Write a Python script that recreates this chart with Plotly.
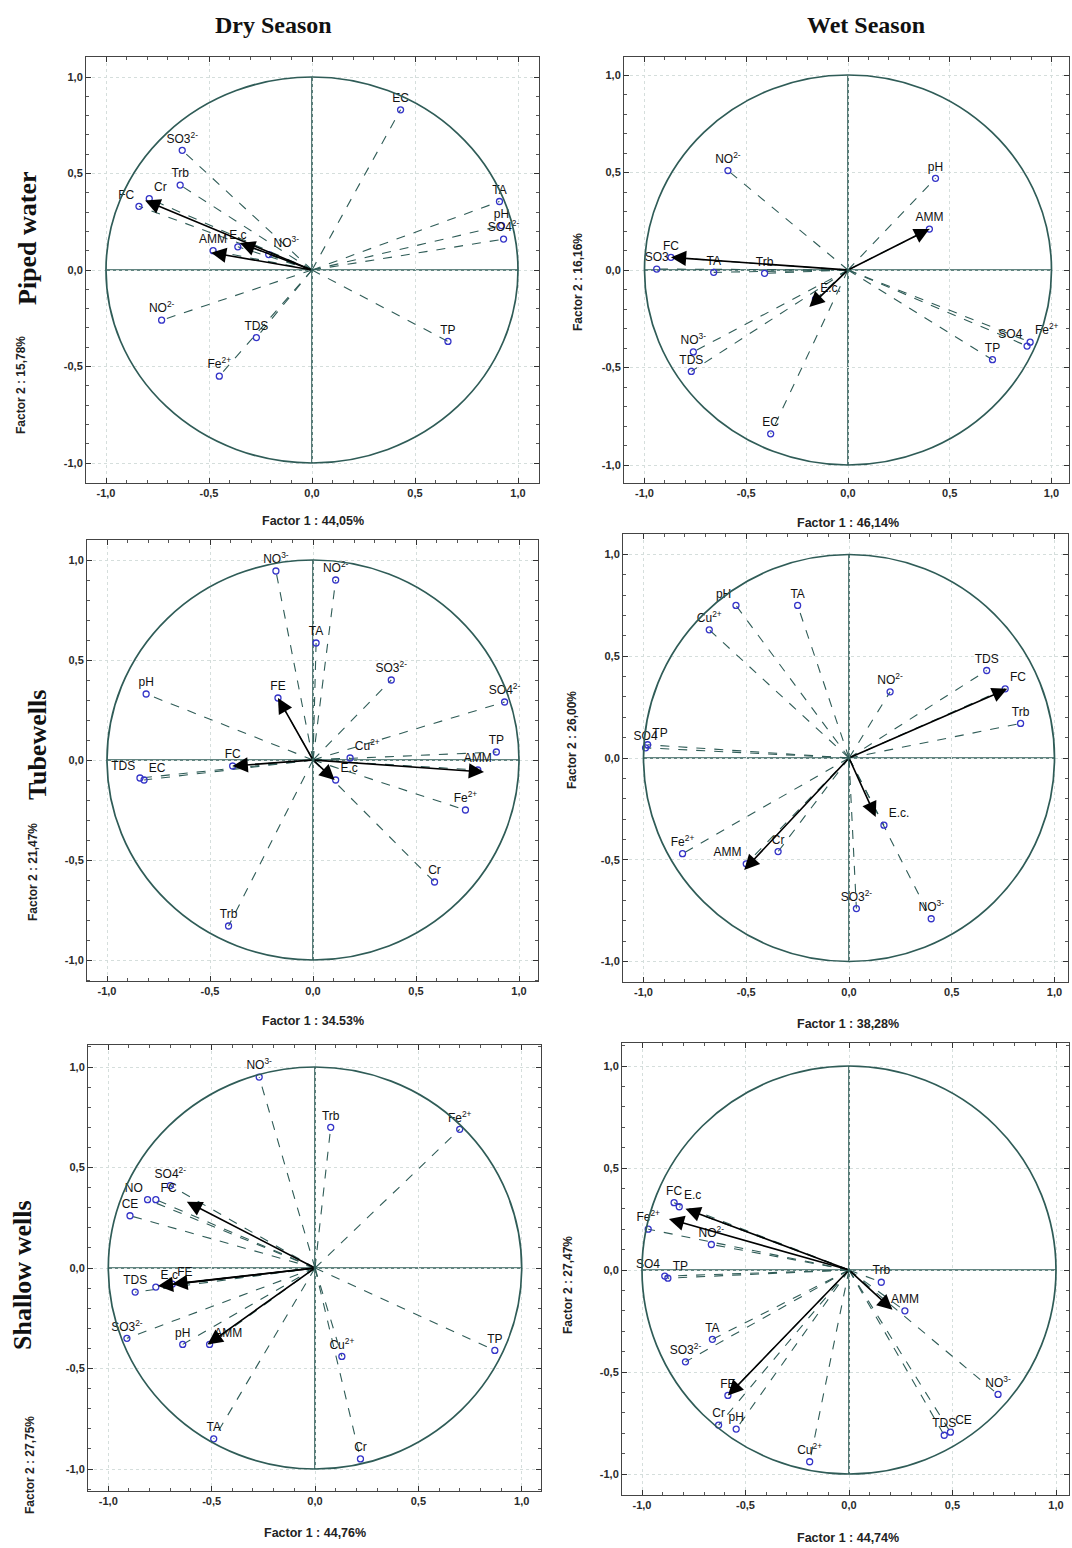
import plotly.graph_objects as go

W, H = 1072, 1548

# ---------------- data: loadings (Factor 1, Factor 2) ----------------
# Dry season - Piped water
tl_names = ["SO3<sup>2-</sup>", "Trb", "Cr", "FC", "AMM", "E.c", "NO<sup>3-</sup>", "NO<sup>2-</sup>", "TDS",
            "Fe<sup>2+</sup>", "EC", "TA", "pH", "SO4<sup>2-</sup>", "TP"]
tl_x = [-0.63, -0.64, -0.79, -0.84, -0.48, -0.36, -0.21, -0.73, -0.27, -0.45, 0.43, 0.91, 0.92, 0.93, 0.66]
tl_y = [0.62, 0.44, 0.37, 0.33, 0.10, 0.12, 0.08, -0.26, -0.35, -0.55, 0.83, 0.355, 0.23, 0.16, -0.37]
tl_pos = ["top center", "top center", "top right", "top left", "top center", "top center", "top right",
          "top center", "top center", "top center", "top center", "top center", "top center", "top center", "top center"]
tl_arrow_x = [-0.81, -0.35, -0.49]
tl_arrow_y = [0.36, 0.14, 0.09]

# Wet season - Piped water
tr_names = ["NO<sup>2-</sup>", "pH", "AMM", "FC", "SO3", "TA", "Trb", "E.c.", "NO<sup>3-</sup>", "TDS", "EC",
            "TP", "SO4", "Fe<sup>2+</sup>"]
tr_x = [-0.59, 0.43, 0.40, -0.87, -0.94, -0.66, -0.41, -0.16, -0.76, -0.77, -0.38, 0.71, 0.88, 0.895]
tr_y = [0.51, 0.47, 0.21, 0.065, 0.005, -0.012, -0.017, -0.15, -0.42, -0.52, -0.84, -0.46, -0.39, -0.37]
tr_pos = ["top center", "top center", "top center", "top center", "top center", "top center", "top center",
          "top right", "top center", "top center", "top center", "top center", "top left", "top right"]
tr_arrow_x = [-0.87, 0.40, -0.19]
tr_arrow_y = [0.065, 0.21, -0.19]

# Dry season - Tubewells
ml_names = ["NO<sup>3-</sup>", "NO<sup>2-</sup>", "TA", "SO3<sup>2-</sup>", "SO4<sup>2-</sup>", "pH", "FE",
            "Cu<sup>2+</sup>", "TP", "AMM", "FC", "TDS", "EC", "E.c", "Fe<sup>2+</sup>", "Cr", "Trb"]
ml_x = [-0.18, 0.11, 0.015, 0.38, 0.93, -0.81, -0.17, 0.18, 0.89, 0.80, -0.39, -0.84, -0.82, 0.11, 0.74, 0.59, -0.41]
ml_y = [0.945, 0.90, 0.585, 0.40, 0.29, 0.33, 0.31, 0.01, 0.04, -0.05, -0.03, -0.09, -0.10, -0.10, -0.25, -0.61, -0.83]
ml_pos = ["top center", "top center", "top center", "top center", "top center", "top center", "top center",
          "top right", "top center", "top center", "top center", "top left", "top right", "top right",
          "top center", "top center", "top center"]
ml_arrow_x = [-0.17, -0.39, 0.83, 0.105]
ml_arrow_y = [0.31, -0.03, -0.06, -0.10]

# Wet season - Tubewells
mr_names = ["pH", "TA", "Cu<sup>2+</sup>", "SO4", "TP", "NO<sup>2-</sup>", "TDS", "FC", "Trb", "E.c.",
            "Fe<sup>2+</sup>", "AMM", "Cr", "SO3<sup>2-</sup>", "NO<sup>3-</sup>"]
mr_x = [-0.55, -0.25, -0.68, -0.99, -0.98, 0.20, 0.67, 0.76, 0.835, 0.17, -0.81, -0.50, -0.345, 0.036, 0.40]
mr_y = [0.75, 0.75, 0.63, 0.05, 0.065, 0.325, 0.43, 0.34, 0.17, -0.33, -0.47, -0.52, -0.46, -0.74, -0.79]
mr_pos = ["top left", "top center", "top center", "top center", "top right", "top center", "top center",
          "top right", "top center", "top right", "top center", "top left", "top center", "top center", "top center"]
mr_arrow_x = [0.77, 0.13, -0.51]
mr_arrow_y = [0.34, -0.29, -0.55]

# Dry season - Shallow wells
bl_names = ["NO<sup>3-</sup>", "Trb", "Fe<sup>2+</sup>", "SO4<sup>2-</sup>", "NO", "FC", "CE", "TDS", "E.c", "FE",
            "SO3<sup>2-</sup>", "pH", "AMM", "TA", "Cu<sup>2+</sup>", "Cr", "TP"]
bl_x = [-0.27, 0.076, 0.70, -0.70, -0.81, -0.77, -0.895, -0.87, -0.77, -0.69, -0.91, -0.64, -0.51, -0.49, 0.13, 0.22, 0.87]
bl_y = [0.95, 0.70, 0.69, 0.41, 0.34, 0.34, 0.26, -0.12, -0.095, -0.08, -0.35, -0.38, -0.38, -0.85, -0.44, -0.95, -0.41]
bl_pos = ["top center", "top center", "top center", "top center", "top left", "top right", "top center",
          "top center", "top right", "top right", "top center", "top center", "top right", "top center",
          "top center", "top center", "top center"]
bl_arrow_x = [-0.62, -0.76, -0.69, -0.52]
bl_arrow_y = [0.33, -0.09, -0.08, -0.38]

# Wet season - Shallow wells
br_names = ["FC", "E.c", "Fe<sup>2+</sup>", "NO<sup>2-</sup>", "SO4", "TP", "TA", "SO3<sup>2-</sup>", "FE", "Cr",
            "pH", "Cu<sup>2+</sup>", "Trb", "AMM", "NO<sup>3-</sup>", "TDS", "CE"]
br_x = [-0.845, -0.82, -0.97, -0.665, -0.89, -0.875, -0.66, -0.79, -0.585, -0.63, -0.545, -0.19, 0.156, 0.27, 0.72, 0.46, 0.49]
br_y = [0.33, 0.31, 0.20, 0.125, -0.03, -0.04, -0.34, -0.45, -0.615, -0.76, -0.78, -0.94, -0.06, -0.20, -0.61, -0.81, -0.795]
br_pos = ["top center", "top right", "top center", "top center", "top left", "top right", "top center",
          "top center", "top center", "top center", "top center", "top center", "top center", "top center",
          "top center", "top center", "top right"]
br_arrow_x = [-0.79, -0.87, -0.585, 0.21]
br_arrow_y = [0.30, 0.25, -0.615, -0.195]

tick_vals = [-1.0, -0.5, 0.0, 0.5, 1.0]
tick_text = ["-1,0", "-0,5", "0,0", "0,5", "1,0"]

f1_labels = ["Factor 1 : 44,05%", "Factor 1 : 46,14%", "Factor 1 : 34.53%",
             "Factor 1 : 38,28%", "Factor 1 : 44,76%", "Factor 1 : 44,74%"]
f2_labels = ["Factor 2 : 15,78%", "Factor 2 : 16,16%", "Factor 2 : 21,47%",
             "Factor 2 : 26,00%", "Factor 2 : 27,75%", "Factor 2 : 27,47%"]
col_titles = ["Dry Season", "Wet Season"]
row_titles = ["Piped water", "Tubewells", "Shallow wells"]

# ---------------- layout geometry (pixels) ----------------
# center_x, center_y, unit_x, unit_y, frame x0, x1, y0, y1
geom = [
    (312, 270, 206, 193, 86, 539, 57, 483),
    (848, 270, 203.5, 195, 624, 1069, 57, 483),
    (313, 760, 206, 200, 87, 538, 540, 981),
    (849, 758, 205.5, 203.5, 623, 1068, 534, 982),
    (315, 1268, 206.7, 201, 88, 541, 1045, 1491),
    (849, 1270, 207, 204, 622, 1069, 1043, 1495),
]
f1_pos = [(313, 521), (848, 523), (313, 1021), (848, 1024), (315, 1533), (848, 1538)]
f2_pos = [(21, 385), (578, 282), (33, 872), (572, 740), (30, 1465), (568, 1285)]

panels = [
    (tl_names, tl_x, tl_y, tl_pos, tl_arrow_x, tl_arrow_y),
    (tr_names, tr_x, tr_y, tr_pos, tr_arrow_x, tr_arrow_y),
    (ml_names, ml_x, ml_y, ml_pos, ml_arrow_x, ml_arrow_y),
    (mr_names, mr_x, mr_y, mr_pos, mr_arrow_x, mr_arrow_y),
    (bl_names, bl_x, bl_y, bl_pos, bl_arrow_x, bl_arrow_y),
    (br_names, br_x, br_y, br_pos, br_arrow_x, br_arrow_y),
]

LINE = "#2f5c57"
PT = "#3434c8"

fig = go.Figure()
layout = dict(width=W, height=H, margin=dict(l=0, r=0, t=0, b=0),
              paper_bgcolor="white", plot_bgcolor="white", showlegend=False)
shapes, annotations = [], []

def px(x):
    return x / W

def py(y):
    return 1 - y / H

for i, ((names, xs, ys, pos, axs, ays), g) in enumerate(zip(panels, geom)):
    n = i + 1
    xa = "x" if n == 1 else f"x{n}"
    ya = "y" if n == 1 else f"y{n}"
    cx, cy, ux, uy, fx0, fx1, fy0, fy1 = g
    xr = [(fx0 - cx) / ux, (fx1 - cx) / ux]
    yr = [(cy - fy1) / uy, (cy - fy0) / uy]
    common = dict(tickvals=tick_vals, ticktext=[f"<b>{t}</b>" for t in tick_text],
                  ticks="inside", ticklen=5,
                  tickcolor="#333", showline=True, linecolor="#444", linewidth=1, mirror="allticks",
                  showgrid=True, gridcolor="#d5dedc", griddash="dot", gridwidth=1, zeroline=False,
                  tickfont=dict(family="Arial", size=11, color="#2a2a2a"),
                  minor=dict(dtick=0.1, ticks="inside", ticklen=3, tickcolor="#555", showgrid=False),
                  fixedrange=True)
    layout["xaxis" if n == 1 else f"xaxis{n}"] = dict(
        domain=[px(fx0), px(fx1)], range=xr, anchor=ya, **common)
    layout["yaxis" if n == 1 else f"yaxis{n}"] = dict(
        domain=[py(fy1), py(fy0)], range=yr, anchor=xa, **common)

    # dashed loading lines from origin
    lx, ly = [], []
    for x, y in zip(xs, ys):
        lx += [0, x, None]
        ly += [0, y, None]
    fig.add_trace(go.Scatter(x=lx, y=ly, xaxis=xa, yaxis=ya, mode="lines",
                             line=dict(color=LINE, width=1.1, dash="dash"), hoverinfo="skip"))
    # points with labels
    fig.add_trace(go.Scatter(x=xs, y=ys, xaxis=xa, yaxis=ya, mode="markers+text",
                             text=names, textposition=pos,
                             textfont=dict(family="Arial", size=12, color="#111"),
                             marker=dict(symbol="circle-open", size=6, color=PT, line=dict(width=1.3, color=PT))))
    # unit circle and axes
    shapes.append(dict(type="circle", xref=xa, yref=ya, x0=-1, y0=-1, x1=1, y1=1,
                       line=dict(color=LINE, width=1.7), layer="above"))
    shapes.append(dict(type="line", xref=xa, yref=ya, x0=-1, y0=0, x1=1, y1=0,
                       line=dict(color=LINE, width=1.6), layer="below"))
    shapes.append(dict(type="line", xref=xa, yref=ya, x0=0, y0=-1, x1=0, y1=1,
                       line=dict(color=LINE, width=1.6), layer="below"))
    # supplementary arrows
    for ax_, ay_ in zip(axs, ays):
        annotations.append(dict(x=ax_, y=ay_, ax=0, ay=0, xref=xa, yref=ya, axref=xa, ayref=ya,
                                text="", showarrow=True, arrowhead=2, arrowsize=1.9,
                                arrowwidth=1.6, arrowcolor="black"))
    # axis titles
    annotations.append(dict(x=px(f1_pos[i][0]), y=py(f1_pos[i][1]), xref="paper", yref="paper",
                            xanchor="center", yanchor="middle",
                            text=f"<b>{f1_labels[i]}</b>", showarrow=False,
                            font=dict(family="Arial", size=12.5, color="#222")))
    annotations.append(dict(x=px(f2_pos[i][0]), y=py(f2_pos[i][1]), xref="paper", yref="paper",
                            xanchor="center", yanchor="middle",
                            text=f"<b>{f2_labels[i]}</b>", showarrow=False, textangle=-90,
                            font=dict(family="Arial", size=12, color="#222")))

# column titles and row titles
for t, x in zip(col_titles, [273, 866]):
    annotations.append(dict(x=px(x), y=py(25), xref="paper", yref="paper", text=f"<b>{t}</b>",
                            xanchor="center", yanchor="middle",
                            showarrow=False, font=dict(family="Liberation Serif", size=24, color="#111")))
for t, (x, y) in zip(row_titles, [(27, 238), (37, 745), (22, 1275)]):
    annotations.append(dict(x=px(x), y=py(y), xref="paper", yref="paper", text=f"<b>{t}</b>",
                            xanchor="center", yanchor="middle",
                            showarrow=False, textangle=-90,
                            font=dict(family="Liberation Serif", size=26, color="#111")))

layout["shapes"] = shapes
layout["annotations"] = annotations
fig.update_layout(**layout)
fig.write_html("out.html", config={"displayModeBar": False},
               post_script="document.body.style.margin='0px';document.body.style.overflow='hidden';")
